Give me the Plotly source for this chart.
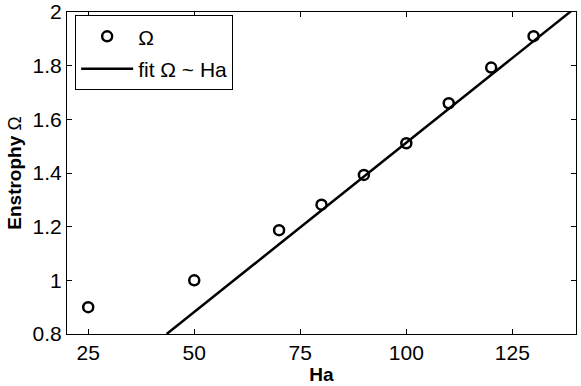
import plotly.graph_objects as go

# Enstrophy vs Hartmann number
ha = [25, 50, 70, 80, 90, 100, 110, 120, 130]
omega = [0.90, 1.00, 1.187, 1.282, 1.393, 1.511, 1.660, 1.793, 1.910]

# linear fit line (end points)
fit_ha = [43.5, 140]
fit_omega = [0.80, 2.018]

xticks = [25, 50, 75, 100, 125]
yticks = [0.8, 1.0, 1.2, 1.4, 1.6, 1.8, 2.0]
ytick_text = ["0.8", "1", "1.2", "1.4", "1.6", "1.8", "2"]

fig = go.Figure()

fig.add_trace(go.Scatter(
    x=ha, y=omega,
    mode="markers",
    name="Ω",
    legendgroup="a",
    marker=dict(symbol="circle-open", color="black", size=10,
                line=dict(color="black", width=2.5)),
))

fig.add_trace(go.Scatter(
    x=fit_ha, y=fit_omega,
    mode="lines",
    name="fit Ω ~ Ha",
    legendgroup="b",
    line=dict(color="black", width=2.5),
))

axis_common = dict(
    showline=True, linecolor="black", linewidth=1, mirror="ticks",
    ticks="inside", ticklen=5, tickcolor="black", tickwidth=1,
    showgrid=False, zeroline=False, automargin=False,
    ticklabeloverflow="allow",
    tickfont=dict(family="Liberation Sans, Arial", size=21, color="black"),
)

fig.update_layout(
    width=581, height=386,
    margin=dict(l=67, r=5, t=12, b=52),
    plot_bgcolor="white", paper_bgcolor="white",
    font=dict(family="Liberation Sans, Arial", color="black"),
    xaxis=dict(range=[20, 140], tickvals=xticks,
               title=dict(text="<b>Ha</b>", font=dict(size=19), standoff=0),
               **axis_common),
    yaxis=dict(range=[0.8, 2.0001], tickvals=yticks, ticktext=ytick_text,
               title=dict(text="<b>Enstrophy</b> Ω", font=dict(size=19), standoff=5),
               **axis_common),
    legend=dict(x=0.016, y=0.99, xanchor="left", yanchor="top",
                bordercolor="black", borderwidth=1, bgcolor="white",
                font=dict(size=21), traceorder="grouped", tracegroupgap=2,
                itemwidth=52),
    showlegend=True,
)

# drop the default page margin so the figure sits at the window origin
fig.write_html("out.html", config={"displayModeBar": False},
               post_script="document.body.style.margin='0';")
